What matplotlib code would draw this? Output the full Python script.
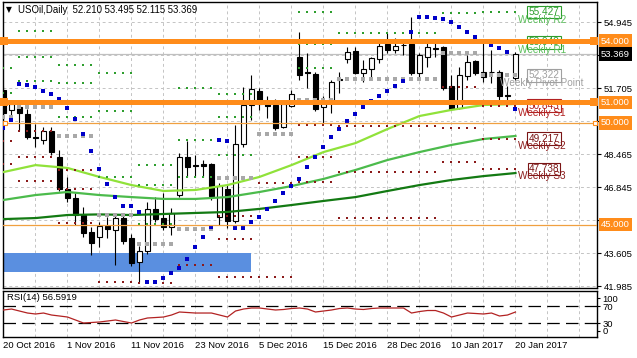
import matplotlib.pyplot as plt
import matplotlib.transforms as mtransforms
from matplotlib.patches import Rectangle

plt.rcParams['font.family'] = ['Liberation Sans', 'DejaVu Sans']

W_PX, H_PX = 637, 358

# daily bars 20 Oct 2016 .. 20 Jan 2017
opens = [51.61, 50.63, 50.77, 50.43, 49.30, 49.15, 49.59, 48.32, 46.75, 46.31,
         45.47, 44.64, 44.39, 44.93, 44.73, 45.32, 44.34, 43.16, 43.70, 45.77,
         45.32, 44.88, 46.45, 48.32, 47.93, 47.97, 47.97, 45.37, 46.75, 45.18,
         48.96, 50.87, 51.56, 50.92, 50.87, 49.79, 50.82, 53.23, 52.49, 52.39,
         50.77, 51.12, 52.10, 53.13, 53.52, 52.44, 52.64, 53.13, 53.87, 53.57,
         53.82, 53.87, 52.44, 53.23, 53.62, 53.72, 51.80, 50.72, 52.29, 53.03,
         52.49, 52.49, 52.49, 51.36, 52.210]
highs = [51.80, 51.02, 50.97, 50.67, 49.94, 49.79, 49.79, 48.66, 47.34, 46.55,
         45.86, 44.88, 45.13, 45.37, 45.47, 45.52, 44.54, 43.95, 46.11, 46.35,
         46.55, 45.81, 48.51, 49.10, 48.42, 48.17, 48.02, 47.04, 46.94, 49.89,
         51.75, 52.34, 51.71, 51.31, 51.17, 50.97, 51.61, 54.45, 53.42, 52.49,
         51.31, 52.10, 52.49, 53.72, 53.72, 53.08, 53.23, 53.91, 54.41, 54.16,
         53.96, 55.19, 53.42, 53.91, 53.91, 53.77, 52.34, 52.74, 53.33, 53.08,
         54.06, 53.57, 52.59, 51.80, 53.495]
lows = [50.33, 50.33, 49.64, 49.20, 48.81, 48.96, 48.42, 46.65, 46.11, 44.98,
        44.39, 43.51, 43.90, 44.34, 43.02, 44.05, 42.97, 42.18, 43.56, 45.13,
        44.73, 44.49, 46.35, 47.34, 47.34, 47.34, 46.21, 44.98, 44.83, 45.08,
        48.81, 50.13, 50.63, 50.23, 49.64, 49.74, 50.77, 52.10, 51.71, 50.58,
        49.99, 50.48, 51.46, 52.93, 52.39, 52.00, 52.10, 52.93, 53.42, 53.42,
        53.33, 52.34, 52.20, 52.74, 53.23, 51.61, 50.63, 50.67, 52.10, 52.34,
        52.00, 51.95, 51.12, 51.02, 52.115]
closes = [50.48, 50.92, 50.48, 49.30, 49.25, 49.59, 48.56, 46.75, 46.31, 45.47,
          44.59, 44.10, 44.93, 44.78, 45.32, 44.19, 43.11, 43.70, 45.77, 45.27,
          44.88, 45.57, 48.32, 47.83, 47.90, 47.88, 46.40, 46.89, 45.18, 48.96,
          50.87, 51.66, 50.92, 50.82, 49.74, 50.92, 51.41, 52.34, 52.42, 50.67,
          50.97, 52.00, 52.15, 53.47, 52.44, 52.64, 53.18, 53.77, 53.57, 53.77,
          53.84, 52.44, 53.33, 53.72, 53.67, 51.71, 50.67, 52.34, 52.98, 52.44,
          52.25, 52.47, 51.31, 51.31, 53.369]

sar = [49.74, 50.13, 51.90, 51.85, 51.75, 51.56, 51.41, 51.17, 50.72, 50.18,
       49.45, 48.61, 47.73, 46.99, 46.35, 45.91, 45.91, 45.62, 42.18, 42.18,
       42.38, 42.62, 42.87, 43.31, 43.90, 44.39, 44.88, 49.15, 49.10, 44.83,
       44.83, 45.13, 45.37, 45.77, 46.16, 46.55, 46.89, 47.24, 47.83, 48.32,
       48.81, 49.30, 49.69, 50.09, 50.43, 50.77, 51.07, 51.31, 51.56, 51.80,
       52.05, 54.45, 55.19, 55.19, 55.14, 55.09, 54.95, 54.70, 54.45, 54.21,
       54.01, 53.82, 53.67, 53.47, 50.67]

# moving averages read every 4 bars
ma_bars = [0, 4, 8, 12, 16, 20, 24, 28, 32, 36, 40, 44, 48, 52, 56, 60, 64]
ma_fast = [47.58, 47.92, 47.78, 47.34, 46.94, 46.65, 46.70, 46.94, 47.34,
           47.92, 48.56, 49.00, 49.69, 50.33, 50.63, 50.87, 50.92]
ma_mid = [46.21, 46.45, 46.60, 46.45, 46.35, 46.26, 46.26, 46.35, 46.60,
          46.89, 47.24, 47.68, 48.17, 48.56, 48.91, 49.20, 49.35]
ma_slow = [45.27, 45.32, 45.47, 45.50, 45.47, 45.52, 45.57, 45.62, 45.77,
           45.96, 46.16, 46.35, 46.65, 46.94, 47.19, 47.38, 47.53]

rsi = [61.3, 63.6, 58.9, 54.2, 51.9, 54.2, 49.5, 47.2, 44.8, 37.8,
       30.7, 31.9, 33.1, 35.4, 37.8, 34.2, 30.7, 37.8, 42.5, 43.6,
       44.8, 49.5, 56.6, 55.4, 54.2, 54.2, 54.2, 49.5, 44.8, 58.9,
       63.6, 66.0, 66.0, 63.6, 61.3, 62.5, 64.8, 66.0, 63.6, 56.6,
       58.9, 61.3, 64.8, 66.0, 63.6, 62.5, 64.8, 66.0, 66.0, 66.0,
       66.0, 54.2, 57.7, 60.1, 60.1, 54.2, 44.8, 49.5, 54.2, 53.1,
       51.9, 54.2, 47.2, 49.5, 56.59]

# weekly pivot levels, one entry per week (first bar, last bar)
pivot_weeks = [(0, 1), (2, 6), (7, 11), (12, 16), (17, 21), (22, 26),
               (27, 31), (32, 36), (37, 41), (42, 54), (55, 59), (60, 64)]
pivot_r3 = [None, 54.50, 52.85, 52.45, 47.93, 51.71, 51.41, None, 55.44, None, None, None]
pivot_r2 = [52.70, 53.23, 51.93, 50.58, 46.94, 49.15, 50.28, None, 53.88, None, None, 55.427]
pivot_r1 = [51.45, 52.05, 50.28, 47.34, 45.04, 47.34, 48.42, 54.07, 52.67, 54.41, 55.39, 53.948]
pivot_p = [50.30, 50.77, 49.35, 45.47, 44.05, 44.78, 47.29, 49.45, 51.10, 52.15, 53.42, 52.322]
pivot_s1 = [49.10, 49.59, 47.68, 42.20, 42.15, 43.00, 45.42, 47.04, 49.89, 49.84, 51.75, 50.843]
pivot_s2 = [47.97, 48.32, 46.77, None, None, None, 44.30, 42.42, 48.32, 47.58, 49.76, 49.217]
pivot_s3 = [None, 47.15, 45.10, None, None, None, 42.42, None, 47.11, 45.32, 48.05, 47.738]

week_names = ['Weekly R2', 'Weekly R1', 'Weekly Pivot Point', 'Weekly S1', 'Weekly S2', 'Weekly S3']
week_values = [55.427, 53.948, 52.322, 50.843, 49.217, 47.738]

price_ticks = [54.945, 53.325, 51.705, 50.085, 48.465, 46.845, 45.225, 43.605, 41.985]
price_labels = ['54.945', '', '51.705', '', '48.465', '46.845', '', '43.605', '41.985']
date_bars = [0, 8, 16, 24, 32, 40, 48, 56, 64]
date_labels = ['20 Oct 2016', '1 Nov 2016', '11 Nov 2016', '23 Nov 2016', '5 Dec 2016',
               '15 Dec 2016', '28 Dec 2016', '10 Jan 2017', '20 Jan 2017']

thick_levels = [54.0, 51.0]
thin_levels = [50.0, 45.0]
zone_top, zone_bottom, zone_end = 43.59, 42.69, 30.9
last_price = 53.369


def fx(px):
    return px / W_PX


def fy(py):
    return 1 - py / H_PX


def price_at(py):
    return 54.945 - (py - 22) * 0.04909


fig = plt.figure(figsize=(W_PX / 100, H_PX / 100), dpi=100)
ax = fig.add_axes([fx(3), fy(288), fx(597) - fx(3), (288 - 2) / H_PX])
ax2 = fig.add_axes([fx(3), fy(337), fx(597) - fx(3), (337 - 291) / H_PX])

xmin, xmax = -0.0625, 74.19
ax.set_xlim(xmin, xmax)
ax.set_ylim(price_at(288), price_at(2))
ax2.set_xlim(xmin, xmax)
ax2.set_ylim(-2.2, 106)

grid_kw = dict(color='#c4c4c4', lw=0.7, dashes=(3, 3), zorder=1)
for g in range(4, 75, 4):
    ax.axvline(g, **grid_kw)
    ax2.axvline(g, **grid_kw)
for p in price_ticks:
    ax.axhline(p, **grid_kw)

# support zone
ax.add_patch(Rectangle((xmin, zone_bottom), zone_end - xmin, zone_top - zone_bottom,
                       fc='#5a8fe0', ec='none', zorder=1.5))

# bid line
ax.axhline(last_price, color='#c0c0c0', lw=0.9, zorder=2)

# candles
n = len(closes)
for i in range(n):
    o, h, l, c = opens[i], highs[i], lows[i], closes[i]
    ax.vlines(i, l, h, color='black', lw=0.8, zorder=3)
    lo, hi = min(o, c), max(o, c)
    fc = 'white' if c >= o else 'black'
    ax.add_patch(Rectangle((i - 0.31, lo), 0.62, max(hi - lo, 0.002),
                           fc=fc, ec='black', lw=0.8, zorder=3.2))

# moving averages
ax.plot(ma_bars, ma_slow, color='#137a13', lw=1.6, zorder=4)
ax.plot(ma_bars, ma_mid, color='#4cbb4c', lw=1.6, zorder=4)
ax.plot(ma_bars, ma_fast, color='#90e23a', lw=1.6, zorder=4)

# pivot dots
dot_sets = [(pivot_r3, '#2e9e2e', 1.5), (pivot_r2, '#2e9e2e', 1.5), (pivot_r1, '#2e9e2e', 1.5),
            (pivot_p, '#a8a8a8', 2.6),
            (pivot_s1, '#8b1a1a', 1.5), (pivot_s2, '#8b1a1a', 1.5), (pivot_s3, '#8b1a1a', 1.5)]
for levels, col, ms in dot_sets:
    for (a, b), v in zip(pivot_weeks, levels):
        if v is None:
            continue
        xs = list(range(a, b + 1))
        ax.plot(xs, [v] * len(xs), ls='none', marker='s', ms=ms, mew=0, color=col, zorder=5)

# parabolic SAR
ax.plot(range(n), sar, ls='none', marker='s', ms=2.3, mew=0, color='#0000c8', zorder=5)

# weekly pivot labels
box_cols = ['#2e9e2e', '#2e9e2e', '#a0a0a0', '#b22222', '#7a1414', '#7a1414']
name_cols = ['#5cbf5c', '#5cbf5c', '#a0a0a0', '#b22222', '#8b1a1a', '#8b1a1a']
for v, name, bc, nc in zip(week_values, week_names, box_cols, name_cols):
    ax.text(67.56, v, f'{v:.3f}', ha='center', va='center', fontsize=7.2, color=bc,
            bbox=dict(boxstyle='square,pad=0.12', fc='white', ec=bc, lw=0.8), zorder=7)
    ax.text(67.3, v - 0.37, name, ha='center', va='center', fontsize=7.2, color=nc, zorder=8)

# horizontal levels
orange = '#ff8c1a'
for lv in thick_levels:
    ax.axhline(lv, color=orange, lw=3.6, zorder=9)
    ax.plot([0.06, 73.8], [lv, lv], ls='none', marker='s', ms=5.5, color=orange,
            mew=0, zorder=9.5, clip_on=False)
for lv in thin_levels:
    ax.axhline(lv, color='#f0a040', lw=0.9, zorder=9)
ax.plot([0.2, 73.9], [50.0, 50.0], ls='none', marker='s', ms=3.2, mfc='white',
        mec=orange, mew=0.8, zorder=9.5, clip_on=False)

# price axis
ax.set_xticks([])
ax.yaxis.tick_right()
ax.set_yticks(price_ticks)
ax.set_yticklabels(price_labels)
ax.tick_params(axis='y', length=3, width=0.8, pad=2, labelsize=6.8, colors='black')

trans = mtransforms.blended_transform_factory(fig.transFigure, ax.transData)
for lv in thick_levels + thin_levels:
    ax.text(fx(601), lv, f'{lv:.3f}', transform=trans, ha='left', va='center', fontsize=6.8,
            color='white', bbox=dict(boxstyle='square,pad=0.25', fc=orange, ec='none'),
            zorder=20, clip_on=False)
ax.text(fx(601), last_price, f'{last_price:.3f}', transform=trans, ha='left', va='center',
        fontsize=6.8, color='white', bbox=dict(boxstyle='square,pad=0.25', fc='black', ec='none'),
        zorder=20, clip_on=False)

# RSI panel
ax2.plot(range(n), rsi, color='#b22222', lw=0.9, zorder=3)
ax2.axhline(70, color='black', lw=0.9, dashes=(10, 5), zorder=2)
ax2.axhline(30, color='black', lw=0.9, dashes=(10, 5), zorder=2)
ax2.yaxis.tick_right()
ax2.set_yticks([88.8, 70, 30, 12.6])
ax2.set_yticklabels(['100', '70', '30', '0'])
ax2.tick_params(axis='y', length=2, width=0.8, pad=2, labelsize=6.8)
ax2.set_xticks(date_bars)
ax2.set_xticklabels(date_labels, ha='left')
ax2.tick_params(axis='x', length=0, pad=3, labelsize=6.8)
ax2.text(0.006, 0.86, 'RSI(14) 56.5919', transform=ax2.transAxes, fontsize=6.8,
         ha='left', va='center')

for a in (ax, ax2):
    for s in a.spines.values():
        s.set_color('black')
        s.set_linewidth(1.0)

# header
fig.text(fx(9), fy(10), '\u25bc', fontsize=5.5, ha='center', va='center', color='black',
         family=['DejaVu Sans'])
fig.text(fx(18), fy(10), 'USOil,Daily  52.210 53.495 52.115 53.369', fontsize=6.9,
         ha='left', va='center', color='black')

fig.savefig('out.png', dpi=100)
